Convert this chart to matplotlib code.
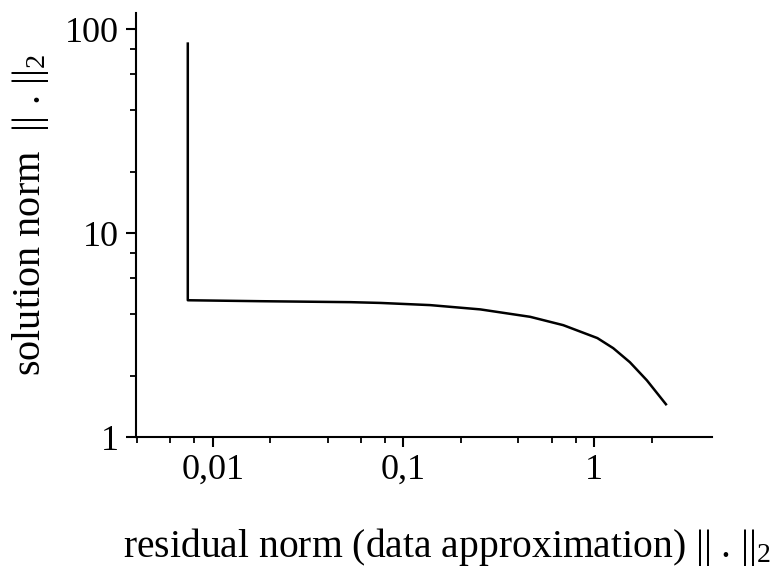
import matplotlib
matplotlib.use('agg')

import matplotlib.pyplot as plt
from matplotlib.ticker import FixedLocator, NullFormatter

plt.rcParams['font.family'] = ['Liberation Serif', 'DejaVu Serif']
plt.rcParams['mathtext.fontset'] = 'custom'
plt.rcParams['mathtext.rm'] = 'Liberation Serif'
plt.rcParams['mathtext.default'] = 'regular'

# L-curve: residual norm vs. solution norm
residual = [0.0074, 0.0074, 0.0178, 0.0528, 0.0758, 0.138, 0.253, 0.462,
            0.689, 1.04, 1.26, 1.54, 1.89, 2.38]
solution = [85, 4.69, 4.64, 4.59, 4.55, 4.44, 4.23, 3.89,
            3.54, 3.06, 2.73, 2.33, 1.90, 1.45]

x_ticks = [0.01, 0.1, 1]
x_labels = ['0,01', '0,1', '1']
y_ticks = [1, 10, 100]
y_labels = ['1', '10', '100']

fig = plt.figure(figsize=(7.76, 5.67), dpi=100)
ax = fig.add_axes([0.175, 0.229, 0.7425, 0.748])

ax.plot(residual, solution, color='black', lw=1.8, solid_joinstyle='round')

ax.set_xscale('log')
ax.set_yscale('log')
ax.set_xlim(0.00395, 4.15)
ax.set_ylim(1, 120)

ax.set_xticks(x_ticks, x_labels)
ax.set_yticks(y_ticks, y_labels)
ax.xaxis.set_minor_locator(FixedLocator([m * 10.0 ** e for e in (-3, -2, -1, 0)
                                         for m in (2, 4, 6, 8) if m * 10.0 ** e < 3]))
ax.yaxis.set_minor_locator(FixedLocator([m * 10.0 ** e for e in (0, 1)
                                         for m in (2, 4, 6, 8)]))
ax.xaxis.set_minor_formatter(NullFormatter())
ax.yaxis.set_minor_formatter(NullFormatter())

for side in ('top', 'right'):
  ax.spines[side].set_visible(False)
for side in ('left', 'bottom'):
  ax.spines[side].set_linewidth(1.5)

ax.tick_params(which='major', length=7, width=1.5, labelsize=26, pad=5)
ax.tick_params(which='minor', length=4.5, width=1.3)

fig.text(447 / 776, 1 - 547 / 567, r'residual norm (data approximation) || . ||$_2$',
         ha='center', va='center', fontsize=28.5)
fig.text(31 / 776, 1 - 215 / 567, r'solution norm  || . ||$_2$',
         ha='center', va='center', rotation=90, fontsize=29)

plt.savefig('out.png', dpi=100)
